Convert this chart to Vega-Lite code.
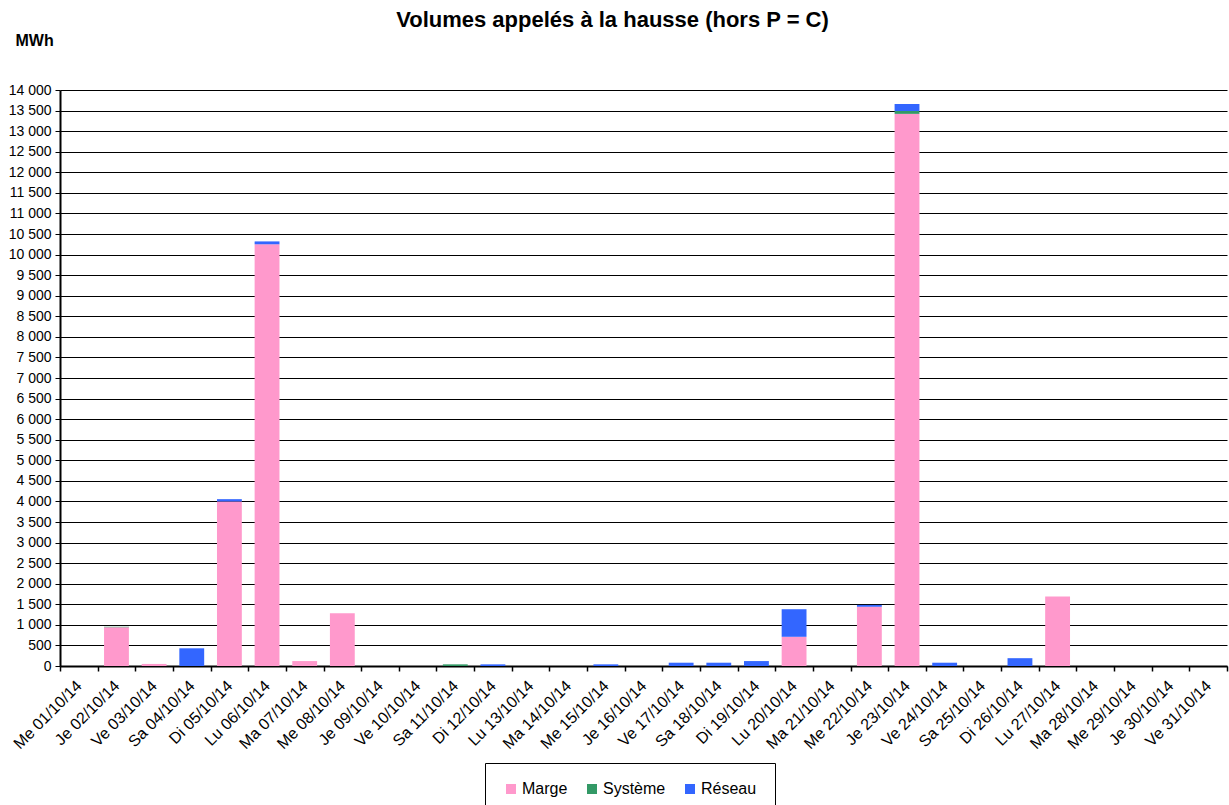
{
  "$schema": "https://vega.github.io/schema/vega-lite/v6.json",
  "width": 1167,
  "height": 576,
  "autosize": {"type": "none"},
  "padding": {"left": 60, "top": 90, "right": 2, "bottom": 139},
  "background": "white",
  "config": {
    "view": {"stroke": null},
    "font": "Liberation Sans",
    "axis": {"labelFont": "Liberation Sans", "titleFont": "Liberation Sans", "labelColor": "black", "titleColor": "black"}
  },
  "title": {
    "text": "Volumes appelés à la hausse (hors P = C)",
    "font": "Liberation Sans",
    "fontSize": 22,
    "fontWeight": "bold",
    "color": "black",
    "anchor": "middle",
    "frame": "group",
    "dx": -31,
    "dy": 10,
    "offset": 10
  },
  "data": {
    "values": [
      {"jour": "Me 01/10/14", "serie": "Marge", "mwh": 0},
      {"jour": "Je 02/10/14", "serie": "Marge", "mwh": 940},
      {"jour": "Je 02/10/14", "serie": "Système", "mwh": 15},
      {"jour": "Ve 03/10/14", "serie": "Marge", "mwh": 50},
      {"jour": "Sa 04/10/14", "serie": "Marge", "mwh": 0},
      {"jour": "Sa 04/10/14", "serie": "Réseau", "mwh": 430},
      {"jour": "Di 05/10/14", "serie": "Marge", "mwh": 4000},
      {"jour": "Di 05/10/14", "serie": "Réseau", "mwh": 55},
      {"jour": "Lu 06/10/14", "serie": "Marge", "mwh": 10250},
      {"jour": "Lu 06/10/14", "serie": "Réseau", "mwh": 70},
      {"jour": "Ma 07/10/14", "serie": "Marge", "mwh": 120},
      {"jour": "Me 08/10/14", "serie": "Marge", "mwh": 1280},
      {"jour": "Je 09/10/14", "serie": "Marge", "mwh": 0},
      {"jour": "Ve 10/10/14", "serie": "Marge", "mwh": 0},
      {"jour": "Sa 11/10/14", "serie": "Marge", "mwh": 0},
      {"jour": "Sa 11/10/14", "serie": "Système", "mwh": 40},
      {"jour": "Di 12/10/14", "serie": "Marge", "mwh": 0},
      {"jour": "Di 12/10/14", "serie": "Réseau", "mwh": 40},
      {"jour": "Lu 13/10/14", "serie": "Marge", "mwh": 0},
      {"jour": "Ma 14/10/14", "serie": "Marge", "mwh": 0},
      {"jour": "Me 15/10/14", "serie": "Marge", "mwh": 0},
      {"jour": "Me 15/10/14", "serie": "Réseau", "mwh": 40},
      {"jour": "Je 16/10/14", "serie": "Marge", "mwh": 0},
      {"jour": "Ve 17/10/14", "serie": "Marge", "mwh": 0},
      {"jour": "Ve 17/10/14", "serie": "Réseau", "mwh": 80},
      {"jour": "Sa 18/10/14", "serie": "Marge", "mwh": 0},
      {"jour": "Sa 18/10/14", "serie": "Réseau", "mwh": 80},
      {"jour": "Di 19/10/14", "serie": "Marge", "mwh": 0},
      {"jour": "Di 19/10/14", "serie": "Réseau", "mwh": 120},
      {"jour": "Lu 20/10/14", "serie": "Marge", "mwh": 710},
      {"jour": "Lu 20/10/14", "serie": "Réseau", "mwh": 670},
      {"jour": "Ma 21/10/14", "serie": "Marge", "mwh": 0},
      {"jour": "Me 22/10/14", "serie": "Marge", "mwh": 1440},
      {"jour": "Me 22/10/14", "serie": "Réseau", "mwh": 45},
      {"jour": "Je 23/10/14", "serie": "Marge", "mwh": 13420},
      {"jour": "Je 23/10/14", "serie": "Système", "mwh": 70},
      {"jour": "Je 23/10/14", "serie": "Réseau", "mwh": 170},
      {"jour": "Ve 24/10/14", "serie": "Marge", "mwh": 0},
      {"jour": "Ve 24/10/14", "serie": "Réseau", "mwh": 80},
      {"jour": "Sa 25/10/14", "serie": "Marge", "mwh": 0},
      {"jour": "Di 26/10/14", "serie": "Marge", "mwh": 0},
      {"jour": "Di 26/10/14", "serie": "Réseau", "mwh": 190},
      {"jour": "Lu 27/10/14", "serie": "Marge", "mwh": 1690},
      {"jour": "Ma 28/10/14", "serie": "Marge", "mwh": 0},
      {"jour": "Me 29/10/14", "serie": "Marge", "mwh": 0},
      {"jour": "Je 30/10/14", "serie": "Marge", "mwh": 0},
      {"jour": "Ve 31/10/14", "serie": "Marge", "mwh": 0}
    ]
  },
  "mark": {"type": "bar", "width": {"band": 0.66}},
  "encoding": {
    "x": {
      "field": "jour",
      "type": "nominal",
      "sort": null,
      "scale": {"paddingInner": 0, "paddingOuter": 0},
      "axis": {
        "title": null,
        "tickBand": "extent",
        "labelAngle": -45,
        "labelAlign": "right",
        "labelBaseline": "middle",
        "labelFontSize": 16,
        "labelPadding": 12,
        "tickSize": 5,
        "tickColor": "black",
        "tickWidth": 1.5,
        "domainColor": "black",
        "domainWidth": 2,
        "grid": false
      }
    },
    "y": {
      "field": "mwh",
      "type": "quantitative",
      "stack": "zero",
      "scale": {"domain": [0, 14000], "nice": false},
      "axis": {
        "title": "MWh",
        "titleAngle": 0,
        "titleX": -45,
        "titleY": -50,
        "titleAlign": "left",
        "titleBaseline": "middle",
        "titleFontSize": 16,
        "titleFontWeight": "bold",
        "values": [0, 500, 1000, 1500, 2000, 2500, 3000, 3500, 4000, 4500, 5000, 5500, 6000, 6500, 7000, 7500, 8000, 8500, 9000, 9500, 10000, 10500, 11000, 11500, 12000, 12500, 13000, 13500, 14000],
        "labelExpr": "replace(format(datum.value, ','), ',', ' ')",
        "labelFontSize": 14,
        "labelPadding": 4,
        "tickSize": 5,
        "tickColor": "black",
        "domainColor": "black",
        "domainWidth": 2,
        "grid": true,
        "gridColor": "black",
        "gridWidth": 1,
        "gridOpacity": 1
      }
    },
    "color": {
      "field": "serie",
      "type": "nominal",
      "scale": {"domain": ["Marge", "Système", "Réseau"], "range": ["#FF99CC", "#339966", "#3366FF"]},
      "legend": {
        "title": null,
        "orient": "none",
        "legendX": 425,
        "legendY": 673,
        "direction": "horizontal",
        "symbolType": "square",
        "symbolSize": 100,
        "symbolStrokeWidth": 0,
        "labelFontSize": 16,
        "labelFont": "Liberation Sans",
        "labelColor": "black",
        "labelOffset": 3,
        "columnPadding": 16,
        "padding": 18,
        "strokeColor": "black",
        "fillColor": "white"
      }
    },
    "order": {"field": "ord", "type": "quantitative"}
  },
  "transform": [
    {"calculate": "datum.serie === 'Marge' ? 1 : (datum.serie === 'Système' ? 2 : 3)", "as": "ord"}
  ]
}
